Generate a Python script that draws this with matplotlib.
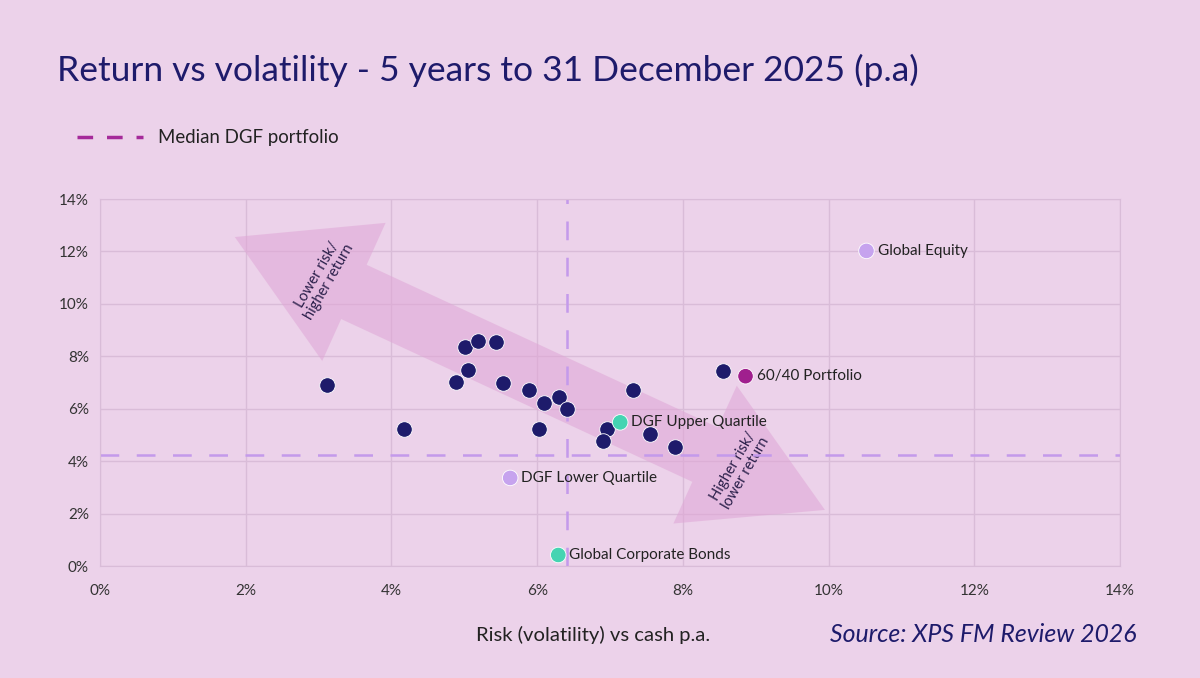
import matplotlib.pyplot as plt
from matplotlib.patches import Polygon
from matplotlib.ticker import FuncFormatter

plt.rcParams["font.family"] = ["Lato", "DejaVu Sans"]

# DGF funds (risk %, return %)
dgf_risk = [3.11, 4.17, 5.01, 5.19, 5.44, 5.05, 4.88, 5.53, 5.89, 6.09, 6.30, 6.41,
            6.03, 7.31, 6.96, 6.91, 8.55, 7.55, 7.89]
dgf_return = [6.90, 5.23, 8.35, 8.60, 8.54, 7.48, 7.02, 6.98, 6.71, 6.23, 6.45, 6.00,
              5.23, 6.71, 5.21, 4.76, 7.43, 5.05, 4.53]

# labelled reference points
ref_names = ["Global Equity", "60/40 Portfolio", "DGF Upper Quartile",
             "DGF Lower Quartile", "Global Corporate Bonds"]
ref_risk = [10.52, 8.86, 7.14, 5.63, 6.29]
ref_return = [12.02, 7.24, 5.48, 3.36, 0.42]
ref_colors = ["#c6a3ee", "#a01f8e", "#45d4b2", "#c6a3ee", "#45d4b2"]

median_risk = 6.41
median_return = 4.24

ticks = [0, 2, 4, 6, 8, 10, 12, 14]

# double-headed arrow outline (data coords)
arrow_x = [1.85, 3.92, 3.66, 8.48, 8.74, 9.95, 7.87, 8.13, 3.31, 3.05]
arrow_y = [12.55, 13.09, 11.49, 5.29, 6.88, 2.14, 1.62, 3.21, 9.42, 7.82]

bg = "#ecd2ea"
navy = "#1e1b6b"
grid_c = "#d9bcd8"

fig = plt.figure(figsize=(12, 6.78), dpi=100, facecolor=bg)
ax = fig.add_axes([100 / 1200, 1 - 566 / 678, 1020 / 1200, 367 / 678])
ax.set_facecolor(bg)

ax.set_xlim(0, 14)
ax.set_ylim(0, 14)
ax.set_xticks(ticks)
ax.set_yticks(ticks)
pct = FuncFormatter(lambda v, p: f"{v:.0f}%")
ax.xaxis.set_major_formatter(pct)
ax.yaxis.set_major_formatter(pct)
ax.tick_params(axis="x", length=0, labelsize=11, colors="#333333", pad=13)
ax.tick_params(axis="y", length=0, labelsize=11, colors="#333333", pad=8)
ax.grid(True, color=grid_c, linewidth=1)
ax.set_axisbelow(True)
for s in ax.spines.values():
    s.set_color(grid_c)

ax.add_patch(Polygon(list(zip(arrow_x, arrow_y)), closed=True,
                     facecolor="#dfa6d6", alpha=0.55, edgecolor="none", zorder=1))
ax.text(3.06, 10.99, "Lower risk/\nhigher return", rotation=60, ha="center", va="center",
        fontsize=10.5, color="#2a1f4a", linespacing=1.05, zorder=2)
ax.text(8.78, 3.66, "Higher risk/\nlower return", rotation=60, ha="center", va="center",
        fontsize=10.5, color="#2a1f4a", linespacing=1.05, zorder=2)

ax.axvline(median_risk, color="#c49aeb", linestyle=(0, (7.5, 7)), linewidth=1.8, zorder=2)
ax.axhline(median_return, color="#c49aeb", linestyle=(0, (7.5, 7)), linewidth=1.8, zorder=2)

ax.scatter(dgf_risk, dgf_return, s=125, color=navy, edgecolor="white",
           linewidth=0.6, zorder=3)
ax.scatter(ref_risk, ref_return, s=125, color=ref_colors, edgecolor="white",
           linewidth=0.6, zorder=3)
for name, xv, yv in zip(ref_names, ref_risk, ref_return):
    ax.annotate(name, (xv, yv), xytext=(8, 0), textcoords="offset points",
                ha="left", va="center", fontsize=11, color="#222222", zorder=4)

fig.text(57 / 1200, 1 - 70 / 678, "Return vs volatility - 5 years to 31 December 2025 (p.a)",
         fontsize=25.5, color=navy, ha="left", va="center")

fig.lines.append(plt.Line2D([77 / 1200, 143 / 1200], [1 - 137 / 678] * 2,
                            transform=fig.transFigure, color="#a52a9a",
                            linestyle=(0, (4.5, 4)), linewidth=2.5))
fig.text(158 / 1200, 1 - 137 / 678, "Median DGF portfolio", fontsize=13.4,
         color="#222222", ha="left", va="center")

fig.text(593 / 1200, 1 - 635 / 678, "Risk (volatility) vs cash p.a.", fontsize=14.6,
         color="#222222", ha="center", va="center")
fig.text(1137 / 1200, 1 - 635 / 678, "Source: XPS FM Review 2026", fontsize=17.9,
         color=navy, ha="right", va="center", style="italic")

fig.savefig("out.png", dpi=100, facecolor=bg)
